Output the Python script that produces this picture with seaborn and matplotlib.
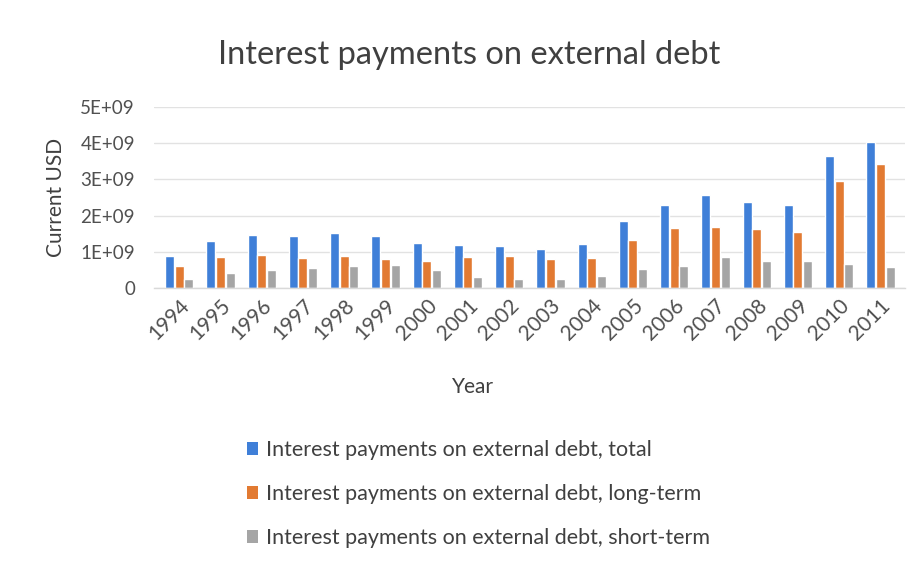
import matplotlib
matplotlib.use("Agg")
import matplotlib.pyplot as plt
import seaborn as sns
import pandas as pd
from matplotlib.patches import Patch

years = [str(y) for y in range(1994, 2012)]
total = [0.89e9, 1.31e9, 1.46e9, 1.43e9, 1.52e9, 1.45e9, 1.26e9, 1.19e9, 1.16e9,
         1.07e9, 1.21e9, 1.85e9, 2.30e9, 2.56e9, 2.37e9, 2.31e9, 3.64e9, 4.03e9]
long_term = [0.61e9, 0.85e9, 0.91e9, 0.84e9, 0.89e9, 0.82e9, 0.74e9, 0.86e9, 0.90e9,
             0.82e9, 0.84e9, 1.32e9, 1.67e9, 1.70e9, 1.63e9, 1.56e9, 2.96e9, 3.43e9]
short_term = [0.25e9, 0.41e9, 0.50e9, 0.55e9, 0.62e9, 0.63e9, 0.51e9, 0.32e9, 0.26e9,
              0.25e9, 0.34e9, 0.52e9, 0.62e9, 0.85e9, 0.74e9, 0.76e9, 0.68e9, 0.60e9]
series_names = ["Interest payments on external debt, total",
                "Interest payments on external debt, long-term",
                "Interest payments on external debt, short-term"]
y_ticks = [0, 1e9, 2e9, 3e9, 4e9, 5e9]
y_tick_labels = ["0", "1E+09", "2E+09", "3E+09", "4E+09", "5E+09"]

colors = ["#3F7FD8", "#E27A32", "#A5A5A5"]

df = pd.DataFrame({
    "Year": years * 3,
    "Value": total + long_term + short_term,
    "Series": [series_names[0]] * len(years) + [series_names[1]] * len(years)
              + [series_names[2]] * len(years),
})

sns.set_theme(style="white")
plt.rcParams["font.family"] = ["Lato", "DejaVu Sans"]

fig = plt.figure(figsize=(9.19, 5.63), dpi=100)
ax = fig.add_axes([0.168, 0.488, 0.817, 0.322])

sns.barplot(data=df, x="Year", y="Value", hue="Series", palette=colors,
            width=0.7, gap=0.06, ax=ax, legend=False, saturation=1)

ax.set_ylim(0, 5e9)
ax.set_xlim(-0.6, len(years) - 0.4)
ax.set_yticks(y_ticks)
ax.set_yticklabels(y_tick_labels, fontsize=13.5, color="#505050")
ax.tick_params(axis="y", length=0, pad=14)
ax.tick_params(axis="x", length=0, pad=5)
ax.set_xticks(range(len(years)))
ax.set_xticklabels(years, rotation=45, ha="right", rotation_mode="anchor",
                   fontsize=15, color="#505050")

ax.grid(axis="y", color="#E2E2E2", linewidth=1)
ax.set_axisbelow(True)
for side in ["top", "right", "left"]:
    ax.spines[side].set_visible(False)
ax.spines["bottom"].set_color("#D9D9D9")
ax.spines["bottom"].set_linewidth(1)

ax.set_xlabel("Year", fontsize=15, color="#404040")
ax.xaxis.set_label_coords(0.424, -0.488)
ax.set_ylabel("Current USD", fontsize=15, color="#404040", labelpad=10)

fig.text(0.51, 0.902, "Interest payments on external debt", ha="center", va="center",
         fontsize=23.5, color="#404040")

handles = [Patch(facecolor=c, edgecolor="none") for c in colors]
fig.legend(handles, series_names, loc="upper left", bbox_to_anchor=(0.252, 0.245),
           bbox_transform=fig.transFigure, frameon=False, fontsize=15.5,
           labelcolor="#404040", handlelength=0.55, handleheight=0.55,
           handletextpad=0.35, labelspacing=1.12, borderpad=0.2)

fig.savefig("out.png", dpi=100, facecolor="white")
